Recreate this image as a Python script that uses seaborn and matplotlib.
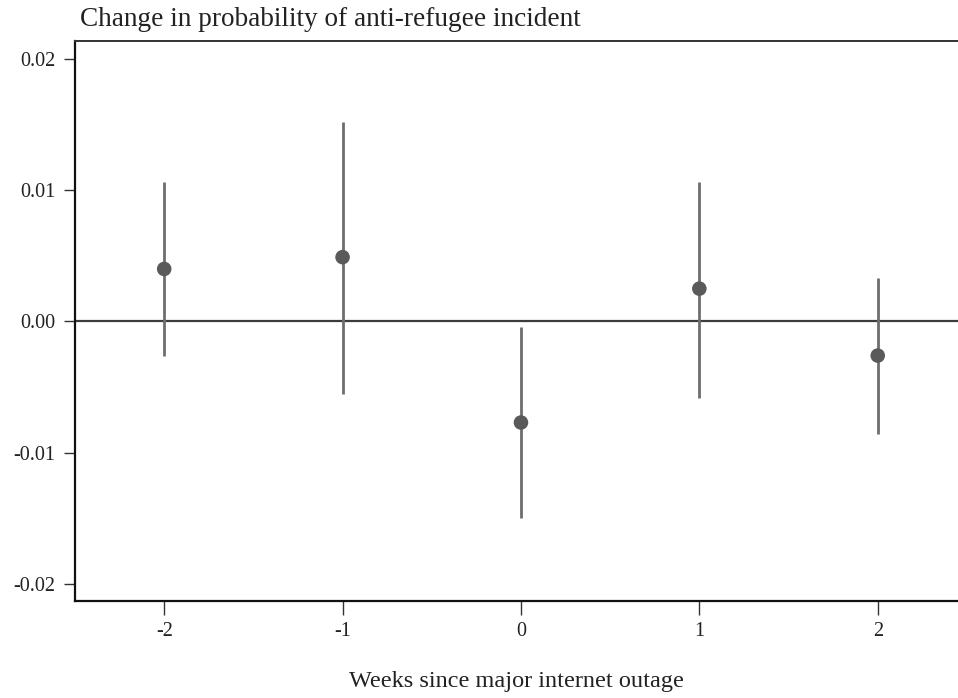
import matplotlib
matplotlib.use("Agg")
import matplotlib.pyplot as plt
import seaborn as sns
import pandas as pd
import numpy as np

weeks = [-2, -1, 0, 1, 2]
estimate = [0.0040, 0.0049, -0.0077, 0.0025, -0.0026]
ci_low = [-0.0026, -0.0055, -0.0150, -0.0058, -0.0086]
ci_high = [0.0106, 0.0152, -0.0004, 0.0106, 0.0033]
yticks = [-0.02, -0.01, 0.0, 0.01, 0.02]
ytick_labels = ["-0.02", "-0.01", "0.00", "0.01", "0.02"]

df = pd.DataFrame({"week": weeks, "est": estimate, "lo": ci_low, "hi": ci_high})

sns.set_theme(style="white")
plt.rcParams["font.family"] = ["Liberation Serif", "DejaVu Serif"]

fig = plt.figure(figsize=(9.58, 6.98), dpi=100)
ax = fig.add_axes([75/958, 1 - 601/698, 1 - 75/958, (601 - 41)/698])

ax.axhline(0, color="#3c3c3c", lw=1.6, zorder=1)
ax.vlines(df["week"], df["lo"], df["hi"], color="#6e6e6e", lw=2.0, zorder=2)
sns.scatterplot(data=df, x="week", y="est", ax=ax, color="#5a5a5a", s=110,
                edgecolor="none", zorder=3)

ax.set_xlim(-2.5, 2.45)
ax.set_ylim(-0.0213, 0.02137)
ax.set_xticks(weeks)
ax.set_xticklabels([str(w) for w in weeks])
ax.set_yticks(yticks)
ax.set_yticklabels(ytick_labels)

for s in ["left", "bottom"]:
    ax.spines[s].set_color("#111111")
    ax.spines[s].set_linewidth(1.6)
ax.spines["top"].set_color("#333333")
ax.spines["top"].set_linewidth(1.4)
ax.spines["right"].set_visible(False)

ax.tick_params(axis="x", length=10, width=1, color="#333333", labelsize=14.5, pad=5, bottom=True)
ax.tick_params(axis="y", length=8, width=1, color="#333333", labelsize=14.5, pad=6, left=True)
for lab in ax.get_xticklabels() + ax.get_yticklabels():
    lab.set_color("#222222")

ax.set_xlabel("Weeks since major internet outage", fontsize=17.5, labelpad=22, color="#222222")
ax.set_ylabel("")
fig.text(80/958, 1 - 20/698, "Change in probability of anti-refugee incident",
         fontsize=19.6, va="center", ha="left", color="#222222")

fig.savefig("out.png", dpi=100)
